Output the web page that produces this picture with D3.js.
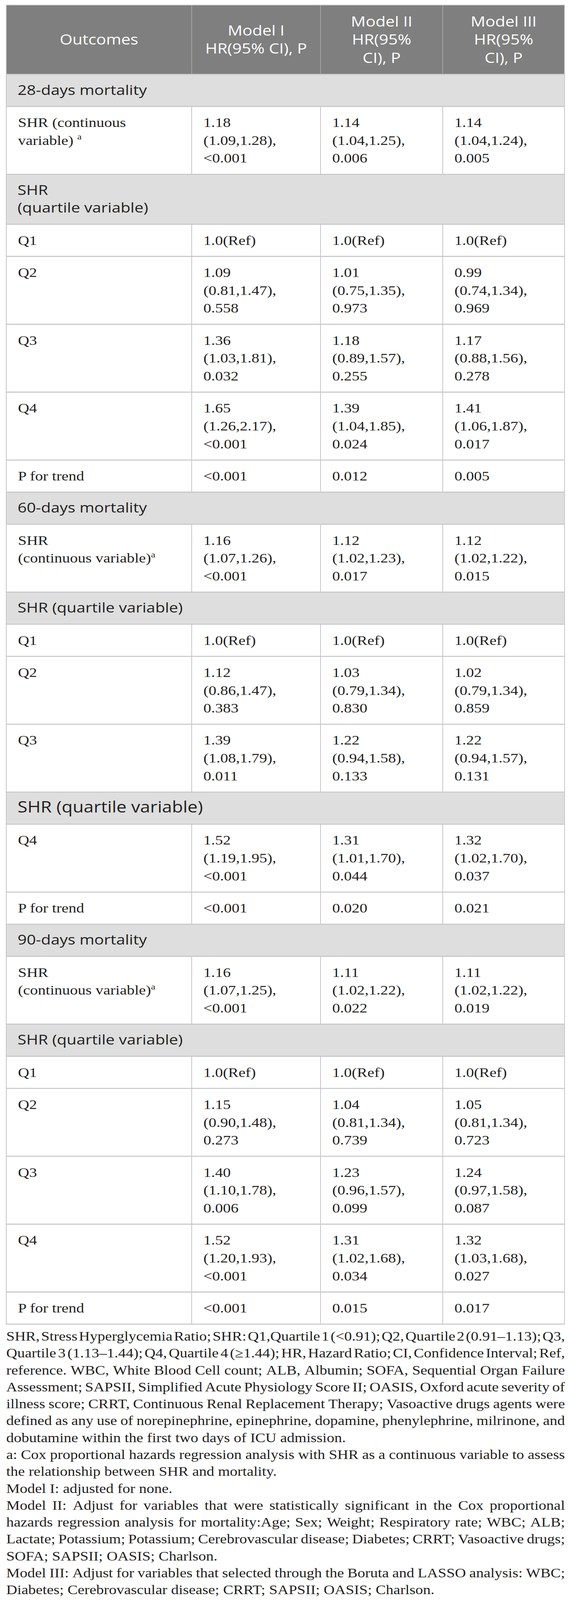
<!DOCTYPE html>
<html>
<head>
<meta charset="utf-8">
<script src="https://cdn.jsdelivr.net/npm/d3@7/dist/d3.min.js"></script>
<style>
  body { margin: 0; background: #fff; overflow: hidden; }
  svg { display: block; }
</style>
</head>
<body>
<div id="chart"></div>
<script>
const headerLines = [
  ["Outcomes"],
  ["Model I", "HR(95% CI), P"],
  ["Model II", "HR(95%", "CI), P"],
  ["Model III", "HR(95%", "CI), P"]
];

// "|" = line break, "^" = superscript follows
const rowLabels = [
  "28-days mortality",
  "SHR (continuous|variable) ^a",
  "SHR|(quartile variable)",
  "Q1", "Q2", "Q3", "Q4", "P for trend",
  "60-days mortality",
  "SHR|(continuous variable)^a",
  "SHR (quartile variable)",
  "Q1", "Q2", "Q3",
  "SHR (quartile variable)",
  "Q4", "P for trend",
  "90-days mortality",
  "SHR|(continuous variable)^a",
  "SHR (quartile variable)",
  "Q1", "Q2", "Q3", "Q4", "P for trend"
];

const rowKind = [
  "group", "data", "group", "data", "data", "data", "data", "data",
  "group", "data", "group", "data", "data", "data",
  "groupBig", "data", "data",
  "group", "data", "group", "data", "data", "data", "data", "data"
];

const modelI = [
  "", "1.18|(1.09,1.28),|<0.001", "",
  "1.0(Ref)", "1.09|(0.81,1.47),|0.558", "1.36|(1.03,1.81),|0.032", "1.65|(1.26,2.17),|<0.001", "<0.001",
  "", "1.16|(1.07,1.26),|<0.001", "",
  "1.0(Ref)", "1.12|(0.86,1.47),|0.383", "1.39|(1.08,1.79),|0.011",
  "", "1.52|(1.19,1.95),|<0.001", "<0.001",
  "", "1.16|(1.07,1.25),|<0.001", "",
  "1.0(Ref)", "1.15|(0.90,1.48),|0.273", "1.40|(1.10,1.78),|0.006", "1.52|(1.20,1.93),|<0.001", "<0.001"
];

const modelII = [
  "", "1.14|(1.04,1.25),|0.006", "",
  "1.0(Ref)", "1.01|(0.75,1.35),|0.973", "1.18|(0.89,1.57),|0.255", "1.39|(1.04,1.85),|0.024", "0.012",
  "", "1.12|(1.02,1.23),|0.017", "",
  "1.0(Ref)", "1.03|(0.79,1.34),|0.830", "1.22|(0.94,1.58),|0.133",
  "", "1.31|(1.01,1.70),|0.044", "0.020",
  "", "1.11|(1.02,1.22),|0.022", "",
  "1.0(Ref)", "1.04|(0.81,1.34),|0.739", "1.23|(0.96,1.57),|0.099", "1.31|(1.02,1.68),|0.034", "0.015"
];

const modelIII = [
  "", "1.14|(1.04,1.24),|0.005", "",
  "1.0(Ref)", "0.99|(0.74,1.34),|0.969", "1.17|(0.88,1.56),|0.278", "1.41|(1.06,1.87),|0.017", "0.005",
  "", "1.12|(1.02,1.22),|0.015", "",
  "1.0(Ref)", "1.02|(0.79,1.34),|0.859", "1.22|(0.94,1.57),|0.131",
  "", "1.32|(1.02,1.70),|0.037", "0.021",
  "", "1.11|(1.02,1.22),|0.019", "",
  "1.0(Ref)", "1.05|(0.81,1.34),|0.723", "1.24|(0.97,1.58),|0.087", "1.32|(1.03,1.68),|0.027", "0.017"
];

const footnoteLines = [
  "SHR, Stress Hyperglycemia Ratio; SHR: Q1,Quartile 1 (<0.91); Q2, Quartile 2 (0.91\u20131.13); Q3,",
  "Quartile 3 (1.13\u20131.44); Q4, Quartile 4 (\u22651.44); HR, Hazard Ratio; CI, Confidence Interval; Ref,",
  "reference. WBC, White Blood Cell count; ALB, Albumin; SOFA, Sequential Organ Failure",
  "Assessment; SAPSII, Simplified Acute Physiology Score II; OASIS, Oxford acute severity of",
  "illness score; CRRT, Continuous Renal Replacement Therapy; Vasoactive drugs agents were",
  "defined as any use of norepinephrine, epinephrine, dopamine, phenylephrine, milrinone, and",
  "dobutamine within the first two days of ICU admission.",
  "a: Cox proportional hazards regression analysis with SHR as a continuous variable to assess",
  "the relationship between SHR and mortality.",
  "Model I: adjusted for none.",
  "Model II: Adjust for variables that were statistically significant in the Cox proportional",
  "hazards regression analysis for mortality:Age; Sex; Weight; Respiratory rate; WBC; ALB;",
  "Lactate; Potassium; Potassium; Cerebrovascular disease; Diabetes; CRRT; Vasoactive drugs;",
  "SOFA; SAPSII; OASIS; Charlson.",
  "Model III: Adjust for variables that selected through the Boruta and LASSO analysis: WBC;",
  "Diabetes; Cerebrovascular disease; CRRT; SAPSII; OASIS; Charlson."
];
const footnoteJustify = [1, 1, 1, 1, 1, 1, 0, 1, 0, 0, 1, 1, 1, 0, 1, 0];

// ---- layout (drawn in the reference's 1460x4759 frame) ----
const W = 1460, H = 4759;
const colEdges = [16, 491, 821, 1134, 1446];
const tableTop = 15, headerH = 206;
const lineH = 53.2, rowPad = 42.3, baseOff = 61;
const padX = 30;
const serif = "'Liberation Serif', 'Times New Roman', serif";
const sans = "'Open Sans', 'Noto Sans', sans-serif";
const ink = "#231f20";
const gridCol = "#c6c6c6";

const x = d3.scaleOrdinal().domain(d3.range(4)).range(colEdges.slice(0, 4));
const colW = d3.scaleOrdinal().domain(d3.range(4)).range(d3.pairs(colEdges).map(p => p[1] - p[0]));

const cells = rowLabels.map((lab, i) => [lab, modelI[i], modelII[i], modelIII[i]]);
const nLines = cells.map(r => d3.max(r, c => c ? c.split("|").length : 1));
const rowH = nLines.map(n => rowPad + lineH * n);
const rowTop = [0, ...d3.cumsum(rowH)].map(v => v + tableTop + headerH);
const y = d3.scaleOrdinal().domain(d3.range(rowLabels.length)).range(rowTop);
const tableBottom = rowTop[rowLabels.length];

// the window may be shorter than the frame: fit the whole frame into it
const viewH = Math.min(window.innerHeight || H, H);
const svg = d3.select("#chart").append("svg")
  .attr("width", W).attr("height", viewH)
  .attr("viewBox", `0 0 ${W} ${H}`)
  .attr("preserveAspectRatio", "none");

svg.append("rect").attr("width", W).attr("height", H).attr("fill", "#fff");

// header band
svg.append("rect")
  .attr("x", colEdges[0]).attr("y", tableTop)
  .attr("width", colEdges[4] - colEdges[0]).attr("height", headerH)
  .attr("fill", "#7f7f7f");

svg.append("g").selectAll("line")
  .data([1, 2, 3])
  .join("line")
  .attr("x1", d => colEdges[d]).attr("x2", d => colEdges[d])
  .attr("y1", tableTop).attr("y2", tableTop + headerH)
  .attr("stroke", "#a2a2a2").attr("stroke-width", 2);

// grey group rows
const rows = d3.range(rowLabels.length);
svg.append("g").selectAll("rect")
  .data(rows.filter(i => rowKind[i] !== "data"))
  .join("rect")
  .attr("x", colEdges[0]).attr("y", i => y(i))
  .attr("width", colEdges[4] - colEdges[0]).attr("height", i => rowH[i])
  .attr("fill", "#dedede");

// vertical rules in data rows
const vData = [];
rows.filter(i => rowKind[i] === "data").forEach(i => [1, 2, 3].forEach(c => vData.push({ i, c })));
svg.append("g").selectAll("line")
  .data(vData)
  .join("line")
  .attr("x1", d => colEdges[d.c]).attr("x2", d => colEdges[d.c])
  .attr("y1", d => y(d.i)).attr("y2", d => y(d.i) + rowH[d.i])
  .attr("stroke", gridCol).attr("stroke-width", 2);

// horizontal rules
svg.append("g").selectAll("line")
  .data(rowTop)
  .join("line")
  .attr("x1", colEdges[0]).attr("x2", colEdges[4])
  .attr("y1", d => d).attr("y2", d => d)
  .attr("stroke", gridCol).attr("stroke-width", 3);

// outer frame
svg.append("rect")
  .attr("x", colEdges[0]).attr("y", tableTop)
  .attr("width", colEdges[4] - colEdges[0]).attr("height", tableBottom - tableTop)
  .attr("fill", "none").attr("stroke", gridCol).attr("stroke-width", 2);

// header text
const hdr = svg.append("g").attr("fill", "#fff")
  .style("font-family", sans).style("font-size", "42px")
  .attr("text-anchor", "middle");
headerLines.forEach((lines, c) => {
  lines.forEach((ln, k) => {
    hdr.append("text")
      .attr("x", x(c) + colW(c) / 2)
      .attr("y", tableTop + headerH / 2 + 15 + (k - (lines.length - 1) / 2) * 53.5)
      .text(ln);
  });
});

// body text, one <text> per line
function writeCell(g, str, x0, top, font, size) {
  str.split("|").forEach((ln, k) => {
    const parts = ln.split("^");
    const t = g.append("text")
      .attr("fill", ink)
      .style("font-family", font)
      .style("font-size", size + "px")
      .attr("x", x0)
      .attr("y", top + baseOff + k * lineH)
      .text(parts[0]);
    if (parts[1]) {
      t.append("tspan")
        .attr("dy", -16)
        .style("font-size", Math.round(size * 0.62) + "px")
        .text(parts[1]);
    }
  });
}

const body = svg.append("g");
rows.forEach(i => {
  if (rowKind[i] === "data") {
    cells[i].forEach((c, j) => {
      if (c) writeCell(body, c, x(j) + padX, y(i), serif, 40);
    });
  } else {
    writeCell(body, rowLabels[i], x(0) + padX - 1, y(i), sans, rowKind[i] === "groupBig" ? 46 : 41);
  }
});

// footnote: words placed one by one so justified lines fill the width
const fnLeft = colEdges[0], fnRight = 1447;
const fnBase = tableBottom + 49, fnLH = 50.3;
const fnSize = 39;
const fn = svg.append("g")
  .attr("fill", ink)
  .style("font-family", serif)
  .style("font-size", fnSize + "px");

const probe = fn.append("text").attr("x", -2000).attr("y", -100);
function measure(s) {
  probe.text(s);
  return probe.node().getComputedTextLength();
}
const spaceW = measure("a a") - measure("aa");

footnoteLines.forEach((line, i) => {
  const words = line.split(" ");
  const widths = words.map(measure);
  const sumW = d3.sum(widths);
  let gap = spaceW;
  if (footnoteJustify[i] && words.length > 1) {
    gap = (fnRight - fnLeft - sumW) / (words.length - 1);
  }
  const starts = [0, ...d3.cumsum(widths.map(w => w + gap))];
  const t = fn.append("text").attr("y", fnBase + i * fnLH);
  words.forEach((w, k) => {
    t.append("tspan").attr("x", fnLeft + starts[k]).text(w);
  });
});
probe.remove();
</script>
</body>
</html>
